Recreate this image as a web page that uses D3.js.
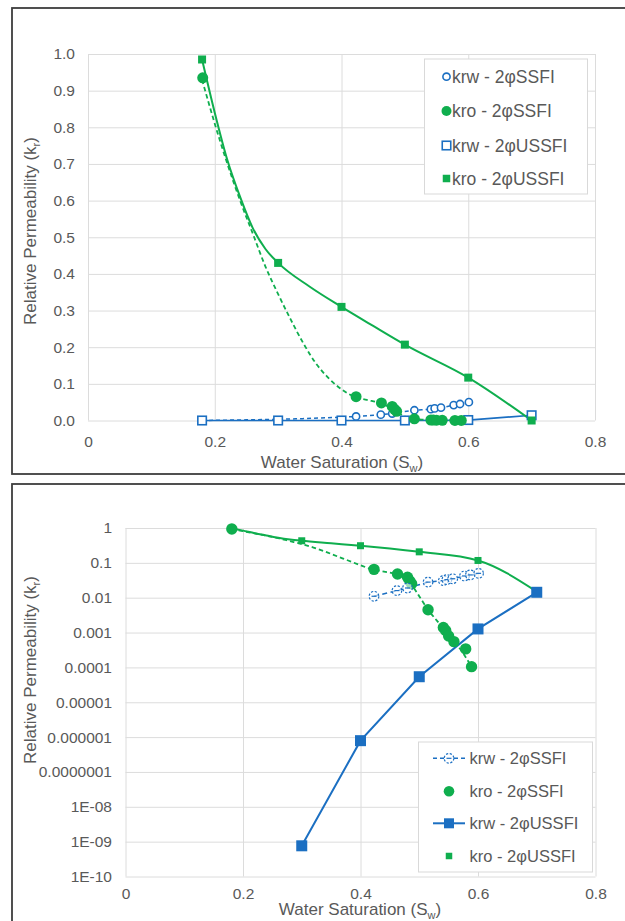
<!DOCTYPE html>
<html>
<head>
<meta charset="utf-8">
<script src="https://cdn.jsdelivr.net/npm/d3@7"></script>
<style>
  body { margin: 0; background: #ffffff; }
  svg text { font-family: "Liberation Sans", Arial, sans-serif; fill: #595959; }
</style>
</head>
<body>
<svg id="chart" width="625" height="921"></svg>
<script>
// ---- series values ----
// two-phase unsteady-state (USSFI) end points
const swUSSFI  = [0.18, 0.3, 0.4, 0.5, 0.6, 0.7];
const krwUSSFI = [0, 7.6e-10, 7.9e-7, 5.4e-5, 1.27e-3, 0.0143];
const kroUSSFI = [0.985, 0.43, 0.31, 0.207, 0.117, 0.0];
const kroUSSFILog = [0.985, 0.43, 0.31, 0.207, 0.117, 0.015];

// two-phase steady-state (SSFI) measurements
const swKrwSSFI = [0.18, 0.423, 0.462, 0.48, 0.515, 0.541, 0.547, 0.557, 0.577, 0.587, 0.601];
const krwSSFI   = [0, 0.011, 0.016, 0.019, 0.028, 0.031, 0.033, 0.035, 0.042, 0.045, 0.05];
const swKroSSFI = [0.181, 0.423, 0.463, 0.48, 0.484, 0.487, 0.515, 0.541, 0.545, 0.55, 0.559, 0.579, 0.589];
const kroSSFI   = [0.935, 0.065, 0.048, 0.0385, 0.03, 0.025, 0.0045, 0.0014, 0.00114, 0.0008, 0.00055, 0.00034, 0.000105];

// fitted kro curves
const swKroSSFICurve = [0.18, 0.2, 0.22, 0.24, 0.26, 0.28, 0.3, 0.32, 0.34, 0.36, 0.38, 0.4, 0.42, 0.44, 0.46, 0.48, 0.5, 0.515, 0.53, 0.545, 0.56, 0.575, 0.589];
const kroSSFICurve   = [0.93, 0.81, 0.7, 0.6, 0.51, 0.42, 0.345, 0.275, 0.21, 0.155, 0.115, 0.085, 0.065, 0.056, 0.048, 0.033, 0.011, 0.0045, 0.0022, 0.0011, 0.00055, 0.00025, 0.000105];
const swKroUSSFICurve = [0.18, 0.2, 0.22, 0.24, 0.26, 0.28, 0.3, 0.35, 0.4, 0.45, 0.5, 0.6, 0.7];
const kroUSSFICurve    = [0.985, 0.84, 0.71, 0.61, 0.525, 0.468, 0.43, 0.365, 0.31, 0.258, 0.207, 0.117, 0.0];
const kroUSSFICurveLog = [0.985, 0.84, 0.71, 0.61, 0.525, 0.468, 0.43, 0.365, 0.31, 0.258, 0.207, 0.117, 0.015];

// ---- ticks ----
const xTicks = [0, 0.2, 0.4, 0.6, 0.8];
const yTicksLin = [0, 0.1, 0.2, 0.3, 0.4, 0.5, 0.6, 0.7, 0.8, 0.9, 1.0];
const yTicksLog = [1, 0.1, 0.01, 0.001, 0.0001, 0.00001, 0.000001, 0.0000001, 1e-8, 1e-9, 1e-10];
const yTickLabelsLog = ["1", "0.1", "0.01", "0.001", "0.0001", "0.00001", "0.000001", "0.0000001", "1E-08", "1E-09", "1E-10"];

const seriesNames = ["krw - 2\u03C6SSFI", "kro - 2\u03C6SSFI", "krw - 2\u03C6USSFI", "kro - 2\u03C6USSFI"];

const BLUE = "#1b6fc2";
const GREEN = "#0fae4e";
const GRID = "#dcdcdc";

const svg = d3.select("#chart");
const zip = (xs, ys) => xs.map((x, i) => [x, ys[i]]);

// panel frames
svg.append("rect").attr("x", 12).attr("y", 8).attr("width", 700).attr("height", 466)
  .attr("fill", "none").attr("stroke", "#3d3d3d").attr("stroke-width", 1.8);
svg.append("rect").attr("x", 12).attr("y", 484).attr("width", 700).attr("height", 500)
  .attr("fill", "none").attr("stroke", "#3d3d3d").attr("stroke-width", 1.8);

function gridAxes(g, x, y, yTickVals, yFmt, yPad, xPad, left, right, top, bottom) {
  const gx = g.append("g").attr("transform", `translate(0,${bottom})`)
    .call(d3.axisBottom(x).tickValues(xTicks).tickFormat(d3.format("")).tickSizeInner(-(bottom - top)).tickSizeOuter(0).tickPadding(xPad));
  const gy = g.append("g").attr("transform", `translate(${left},0)`)
    .call(d3.axisLeft(y).tickValues(yTickVals).tickFormat(yFmt).tickSizeInner(-(right - left)).tickSizeOuter(0).tickPadding(yPad));
  [gx, gy].forEach(a => {
    a.select(".domain").remove();
    a.selectAll(".tick line").attr("stroke", GRID).attr("stroke-width", 1);
    a.selectAll(".tick text").attr("font-size", 15.5).attr("fill", "#595959")
      .attr("font-family", '"Liberation Sans", Arial, sans-serif');
  });
}

function axisTitles(g, xCx, xCy, yCx, yCy) {
  const t = g.append("text").attr("x", xCx).attr("y", xCy).attr("text-anchor", "middle").attr("font-size", 17);
  t.append("tspan").text("Water Saturation (S");
  t.append("tspan").attr("font-size", 11).attr("dy", 4).text("w");
  t.append("tspan").attr("dy", -4).text(")");
  const r = g.append("text").attr("transform", `translate(${yCx},${yCy}) rotate(-90)`)
    .attr("text-anchor", "middle").attr("font-size", 17);
  r.append("tspan").text("Relative Permeability (k");
  r.append("tspan").attr("font-size", 11).attr("dy", 4).text("r");
  r.append("tspan").attr("dy", -4).text(")");
}

const sqr = (g, cx, cy, s) => g.append("rect").attr("x", cx - s / 2).attr("y", cy - s / 2).attr("width", s).attr("height", s);

// ================= linear panel =================
{
  const L = 88, R = 595, T = 54, B = 420.5;
  const x = d3.scaleLinear().domain([0, 0.8]).range([L, R]);
  const y = d3.scaleLinear().domain([0, 1]).range([B, T]);
  const g = svg.append("g");
  gridAxes(g, x, y, yTicksLin, d3.format(".1f"), 13, 15, L, R, T, B);
  axisTitles(g, 342, 468, 36, 231);

  const line = d3.line().x(d => x(d[0])).y(d => y(d[1])).curve(d3.curveMonotoneX);
  const straight = d3.line().x(d => x(d[0])).y(d => y(d[1]));

  g.append("path").attr("d", line(zip(swKrwSSFI, krwSSFI))).attr("fill", "none")
    .attr("stroke", BLUE).attr("stroke-width", 1.5).attr("stroke-dasharray", "4,3");
  g.append("path").attr("d", straight(zip(swUSSFI, krwUSSFI))).attr("fill", "none")
    .attr("stroke", BLUE).attr("stroke-width", 1.7);
  g.append("path").attr("d", line(zip(swKroSSFICurve, kroSSFICurve))).attr("fill", "none")
    .attr("stroke", GREEN).attr("stroke-width", 1.8).attr("stroke-dasharray", "4.5,3");
  g.append("path").attr("d", line(zip(swKroUSSFICurve, kroUSSFICurve))).attr("fill", "none")
    .attr("stroke", GREEN).attr("stroke-width", 2);

  zip(swKrwSSFI, krwSSFI).forEach(d => g.append("circle").attr("cx", x(d[0])).attr("cy", y(d[1])).attr("r", 3.6)
    .attr("fill", "#fff").attr("stroke", BLUE).attr("stroke-width", 1.6));
  zip(swUSSFI, krwUSSFI).forEach(d => sqr(g, x(d[0]), y(d[1]), 8.5)
    .attr("fill", "#fff").attr("stroke", BLUE).attr("stroke-width", 1.6));
  zip(swKroSSFI, kroSSFI).forEach(d => g.append("circle").attr("cx", x(d[0])).attr("cy", y(d[1])).attr("r", 5.5)
    .attr("fill", GREEN));
  zip(swUSSFI, kroUSSFI).forEach(d => sqr(g, x(d[0]), y(d[1]), 8).attr("fill", GREEN));

  // legend
  const lg = g.append("g");
  lg.append("rect").attr("x", 424.5).attr("y", 59).attr("width", 163).attr("height", 135)
    .attr("fill", "#fff").attr("stroke", "#d9d9d9").attr("stroke-width", 1);
  const rows = [76.7, 111, 145.5, 178.5];
  const mx = 446.5;
  lg.append("circle").attr("cx", mx).attr("cy", rows[0]).attr("r", 3.6).attr("fill", "#fff").attr("stroke", BLUE).attr("stroke-width", 1.6);
  lg.append("circle").attr("cx", mx).attr("cy", rows[1]).attr("r", 5).attr("fill", GREEN);
  sqr(lg, mx, rows[2], 8.5).attr("fill", "#fff").attr("stroke", BLUE).attr("stroke-width", 1.6);
  sqr(lg, mx, rows[3], 7.5).attr("fill", GREEN);
  seriesNames.forEach((s, i) => lg.append("text").attr("x", 452).attr("y", rows[i]).attr("dy", "0.35em")
    .attr("font-size", 17.5).text(s));
}

// ================= logarithmic panel =================
{
  const L = 125.5, R = 595.5, T = 528, B = 876.5;
  const x = d3.scaleLinear().domain([0, 0.8]).range([L, R]);
  const y = d3.scaleLog().domain([1e-10, 1]).range([B, T]);
  const g = svg.append("g");
  gridAxes(g, x, y, yTicksLog, (d, i) => yTickLabelsLog[i], 13.5, 11, L, R, T, B);
  axisTitles(g, 360, 915, 36, 670);

  const pos = ([a, b]) => b > 0;
  const line = d3.line().x(d => x(d[0])).y(d => y(d[1])).curve(d3.curveMonotoneX);
  const straight = d3.line().x(d => x(d[0])).y(d => y(d[1]));

  g.append("path").attr("d", line(zip(swKroSSFICurve, kroSSFICurve))).attr("fill", "none")
    .attr("stroke", GREEN).attr("stroke-width", 1.8).attr("stroke-dasharray", "4.5,3");
  g.append("path").attr("d", line(zip(swKroUSSFICurve, kroUSSFICurveLog))).attr("fill", "none")
    .attr("stroke", GREEN).attr("stroke-width", 2);
  g.append("path").attr("d", straight(zip(swKrwSSFI, krwSSFI).filter(pos))).attr("fill", "none")
    .attr("stroke", BLUE).attr("stroke-width", 1.5).attr("stroke-dasharray", "5,3.5");
  g.append("path").attr("d", straight(zip(swUSSFI, krwUSSFI).filter(pos))).attr("fill", "none")
    .attr("stroke", BLUE).attr("stroke-width", 2);

  zip(swUSSFI, kroUSSFILog).forEach(d => sqr(g, x(d[0]), y(d[1]), 7).attr("fill", GREEN));
  zip(swKroSSFI, kroSSFI).forEach(d => g.append("circle").attr("cx", x(d[0])).attr("cy", y(d[1])).attr("r", 5.7)
    .attr("fill", GREEN));
  zip(swKrwSSFI, krwSSFI).filter(pos).forEach(d => {
    g.append("circle").attr("cx", x(d[0])).attr("cy", y(d[1])).attr("r", 4.8)
      .attr("fill", "#fff").attr("fill-opacity", 0.6).attr("stroke", BLUE).attr("stroke-width", 1.2).attr("stroke-dasharray", "2.2,1.6");
    g.append("line").attr("x1", x(d[0]) - 2.5).attr("x2", x(d[0]) + 2.5).attr("y1", y(d[1])).attr("y2", y(d[1]))
      .attr("stroke", BLUE).attr("stroke-width", 1.2);
  });
  zip(swUSSFI, krwUSSFI).filter(pos).forEach(d => sqr(g, x(d[0]), y(d[1]), 11).attr("fill", BLUE));

  // legend
  const lg = g.append("g");
  lg.append("rect").attr("x", 418.5).attr("y", 742).attr("width", 174).attr("height", 130)
    .attr("fill", "#fff").attr("stroke", "#d9d9d9").attr("stroke-width", 1);
  const rows = [758.3, 791.3, 823.3, 856];
  const x1 = 433, x2 = 465, mx = 449;
  lg.append("line").attr("x1", x1).attr("x2", x2).attr("y1", rows[0]).attr("y2", rows[0])
    .attr("stroke", BLUE).attr("stroke-width", 1.5).attr("stroke-dasharray", "4,3");
  lg.append("circle").attr("cx", mx).attr("cy", rows[0]).attr("r", 4.8).attr("fill", "#fff")
    .attr("stroke", BLUE).attr("stroke-width", 1.2).attr("stroke-dasharray", "2.2,1.6");
  lg.append("line").attr("x1", mx - 2.5).attr("x2", mx + 2.5).attr("y1", rows[0]).attr("y2", rows[0])
    .attr("stroke", BLUE).attr("stroke-width", 1.2);
  lg.append("circle").attr("cx", mx).attr("cy", rows[1]).attr("r", 5.3).attr("fill", GREEN);
  lg.append("line").attr("x1", x1).attr("x2", x2).attr("y1", rows[2]).attr("y2", rows[2])
    .attr("stroke", BLUE).attr("stroke-width", 2);
  sqr(lg, mx, rows[2], 10).attr("fill", BLUE);
  sqr(lg, mx, rows[3], 6.5).attr("fill", GREEN);
  seriesNames.forEach((s, i) => lg.append("text").attr("x", 469.5).attr("y", rows[i]).attr("dy", "0.35em")
    .attr("font-size", 16.5).text(s));
}
</script>
</body>
</html>
